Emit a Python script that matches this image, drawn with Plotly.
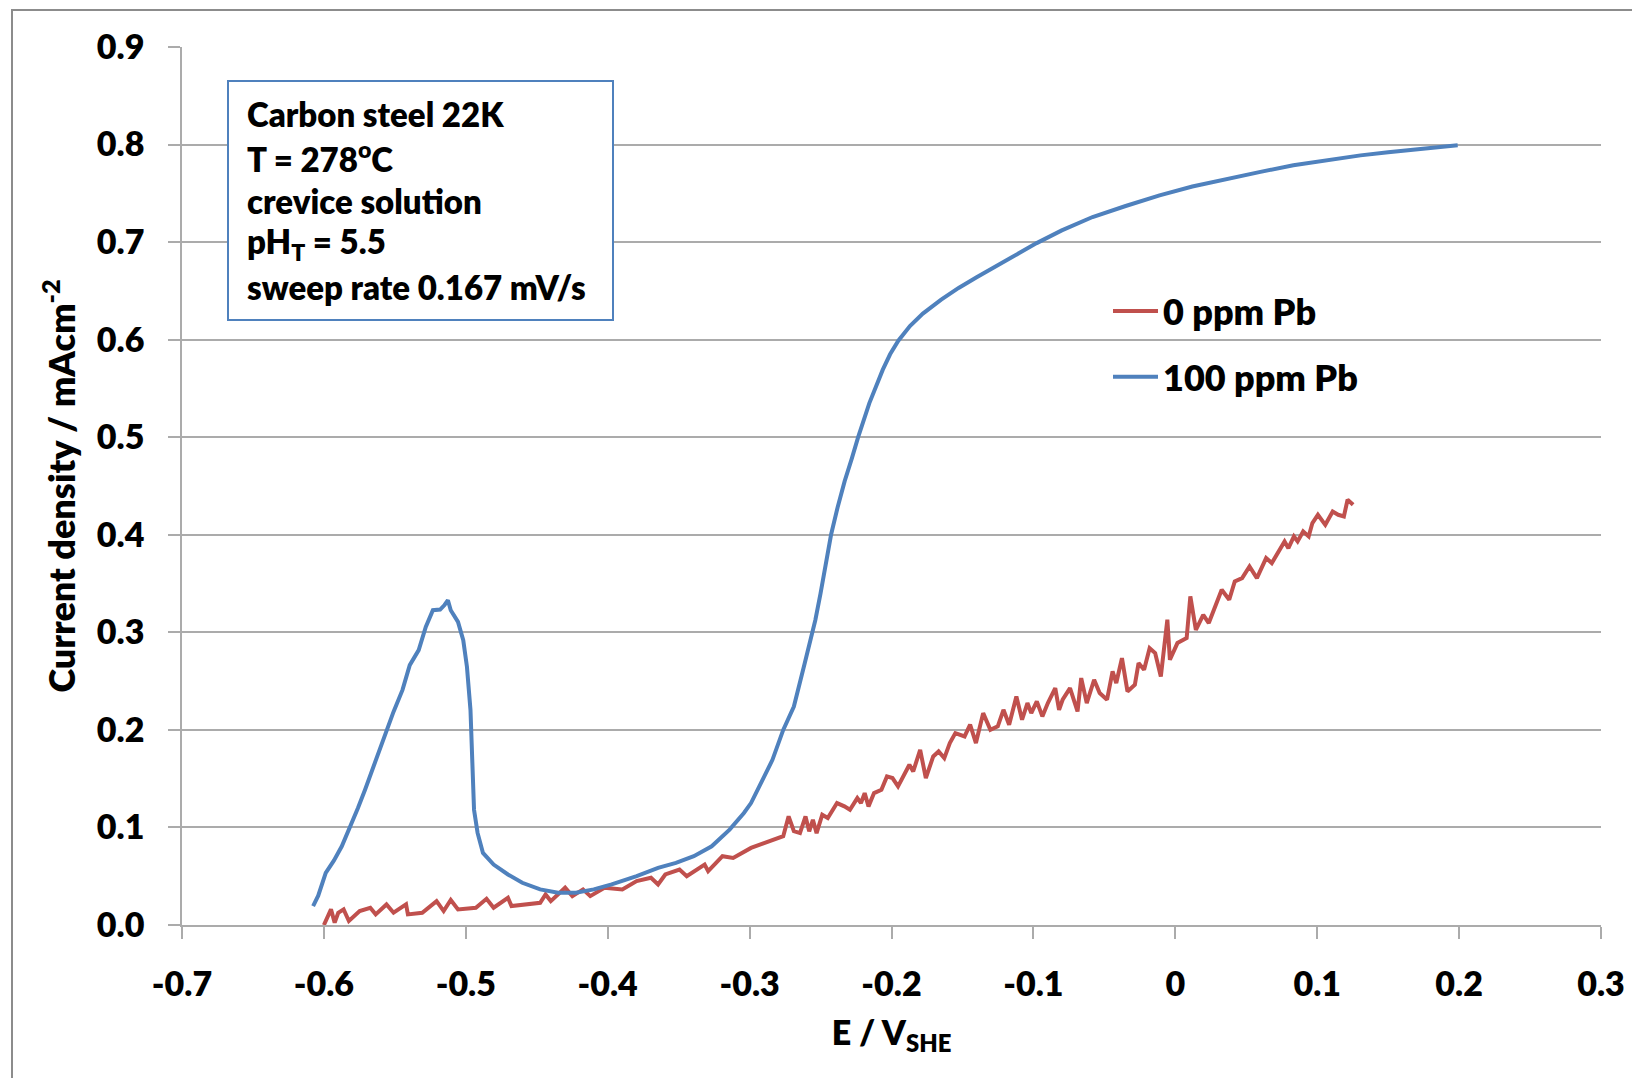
import plotly.graph_objects as go

# ---------------- data ----------------
E_0ppm = [-0.6000, -0.5950, -0.5924, -0.5899, -0.5861, -0.5824, -0.5748, -0.5673, -0.5635, -0.5559,
          -0.5509, -0.5421, -0.5408, -0.5307, -0.5206, -0.5156, -0.5106, -0.5055, -0.4929, -0.4854,
          -0.4804, -0.4703, -0.4678, -0.4476, -0.4438, -0.4401, -0.4300, -0.4249, -0.4174, -0.4123,
          -0.4023, -0.3897, -0.3796, -0.3695, -0.3645, -0.3594, -0.3494, -0.3443, -0.3317, -0.3292,
          -0.3191, -0.3116, -0.2990, -0.2814, -0.2763, -0.2725, -0.2688, -0.2645, -0.2606, -0.2580,
          -0.2554, -0.2528, -0.2488, -0.2449, -0.2384, -0.2332, -0.2293, -0.2241, -0.2215, -0.2189,
          -0.2162, -0.2123, -0.2071, -0.2032, -0.1993, -0.1954, -0.1914, -0.1874, -0.1847, -0.1798,
          -0.1758, -0.1706, -0.1668, -0.1628, -0.1589, -0.1550, -0.1485, -0.1446, -0.1405, -0.1354,
          -0.1303, -0.1251, -0.1211, -0.1171, -0.1120, -0.1080, -0.1042, -0.1015, -0.0976, -0.0937,
          -0.0898, -0.0846, -0.0819, -0.0794, -0.0742, -0.0689, -0.0663, -0.0624, -0.0572, -0.0533,
          -0.0481, -0.0442, -0.0416, -0.0376, -0.0337, -0.0285, -0.0259, -0.0220, -0.0181, -0.0142,
          -0.0102, -0.0056, -0.0038, 0.0015, 0.0080, 0.0106, 0.0145, 0.0197, 0.0236, 0.0327,
          0.0380, 0.0419, 0.0471, 0.0523, 0.0575, 0.0640, 0.0680, 0.0770, 0.0797, 0.0836,
          0.0862, 0.0901, 0.0940, 0.0966, 0.1005, 0.1057, 0.1109, 0.1148, 0.1188, 0.1214,
          0.1253]
I_0ppm = [0.0000, 0.0160, 0.0024, 0.0126, 0.0160, 0.0041, 0.0143, 0.0177, 0.0109, 0.0211,
          0.0126, 0.0211, 0.0109, 0.0126, 0.0245, 0.0143, 0.0256, 0.0160, 0.0177, 0.0269,
          0.0177, 0.0279, 0.0194, 0.0228, 0.0313, 0.0245, 0.0382, 0.0296, 0.0365, 0.0296,
          0.0382, 0.0365, 0.0450, 0.0484, 0.0416, 0.0518, 0.0569, 0.0501, 0.0620, 0.0552,
          0.0705, 0.0688, 0.0790, 0.0876, 0.0910, 0.1114, 0.0961, 0.0942, 0.1113, 0.0960,
          0.1079, 0.0942, 0.1130, 0.1096, 0.1250, 0.1216, 0.1181, 0.1301, 0.1250, 0.1352,
          0.1216, 0.1352, 0.1386, 0.1523, 0.1506, 0.1421, 0.1540, 0.1643, 0.1574, 0.1796,
          0.1506, 0.1728, 0.1779, 0.1711, 0.1865, 0.1967, 0.1933, 0.2053, 0.1865, 0.2172,
          0.2001, 0.2036, 0.2206, 0.2053, 0.2343, 0.2104, 0.2275, 0.2172, 0.2292, 0.2138,
          0.2275, 0.2428, 0.2206, 0.2309, 0.2428, 0.2189, 0.2531, 0.2275, 0.2514, 0.2377,
          0.2309, 0.2599, 0.2480, 0.2736, 0.2394, 0.2463, 0.2685, 0.2616, 0.2838, 0.2787,
          0.2548, 0.3129, 0.2719, 0.2890, 0.2941, 0.3368, 0.3026, 0.3180, 0.3095, 0.3436,
          0.3334, 0.3522, 0.3556, 0.3675, 0.3556, 0.3761, 0.3710, 0.3932, 0.3863, 0.3983,
          0.3932, 0.4034, 0.3983, 0.4120, 0.4205, 0.4102, 0.4239, 0.4205, 0.4188, 0.4359,
          0.4307]

E_100ppm = [-0.6076, -0.6040, -0.5987, -0.5930, -0.5874, -0.5811, -0.5760, -0.5710, -0.5635, -0.5559,
            -0.5509, -0.5446, -0.5395, -0.5332, -0.5282, -0.5232, -0.5181, -0.5150, -0.5126, -0.5106,
            -0.5055, -0.5018, -0.4992, -0.4967, -0.4955, -0.4942, -0.4917, -0.4879, -0.4804, -0.4703,
            -0.4602, -0.4476, -0.4350, -0.4224, -0.4098, -0.3972, -0.3796, -0.3645, -0.3519, -0.3393,
            -0.3267, -0.3141, -0.3040, -0.2990, -0.2914, -0.2839, -0.2763, -0.2688, -0.2612, -0.2537,
            -0.2500, -0.2460, -0.2426, -0.2380, -0.2330, -0.2280, -0.2235, -0.2156, -0.2100, -0.2062,
            -0.2010, -0.1952, -0.1870, -0.1779, -0.1650, -0.1527, -0.1400, -0.1276, -0.1130, -0.0977,
            -0.0800, -0.0583, -0.0350, -0.0111, 0.0120, 0.0360, 0.0600, 0.0832, 0.1070, 0.1305,
            0.1500, 0.1682, 0.1850, 0.1990]
I_100ppm = [0.0194, 0.0300, 0.0535, 0.0660, 0.0807, 0.1012, 0.1200, 0.1387, 0.1690, 0.2000,
            0.2187, 0.2410, 0.2664, 0.2818, 0.3056, 0.3227, 0.3233, 0.3280, 0.3329, 0.3227,
            0.3107, 0.2920, 0.2647, 0.2204, 0.1693, 0.1182, 0.0944, 0.0739, 0.0620, 0.0518,
            0.0433, 0.0365, 0.0330, 0.0330, 0.0365, 0.0416, 0.0501, 0.0586, 0.0637, 0.0705,
            0.0807, 0.0978, 0.1148, 0.1250, 0.1472, 0.1693, 0.2000, 0.2239, 0.2681, 0.3124,
            0.3400, 0.3720, 0.4000, 0.4280, 0.4550, 0.4780, 0.5000, 0.5350, 0.5560, 0.5690,
            0.5850, 0.5990, 0.6140, 0.6267, 0.6410, 0.6530, 0.6640, 0.6745, 0.6860, 0.6990,
            0.7120, 0.7257, 0.7370, 0.7479, 0.7570, 0.7650, 0.7720, 0.7787, 0.7840, 0.7889,
            0.7920, 0.7947, 0.7975, 0.7992]

series_names = ["0 ppm Pb", "100 ppm Pb"]
x_tickvals = [-0.7, -0.6, -0.5, -0.4, -0.3, -0.2, -0.1, 0.0, 0.1, 0.2, 0.3]
x_ticktext = ["-0.7", "-0.6", "-0.5", "-0.4", "-0.3", "-0.2", "-0.1", "0", "0.1", "0.2", "0.3"]
y_tickvals = [0.0, 0.1, 0.2, 0.3, 0.4, 0.5, 0.6, 0.7, 0.8, 0.9]
y_ticktext = ["0.0", "0.1", "0.2", "0.3", "0.4", "0.5", "0.6", "0.7", "0.8", "0.9"]
info_lines = ["Carbon steel 22K", "T = 278<sup>o</sup>C", "crevice solution",
              "pH<sub>T</sub> = 5.5", "sweep rate 0.167 mV/s"]

# ---------------- figure ----------------
FONT = "Lato"
WEIGHT = 800
RED = "#C0504D"
BLUE = "#4F81BD"
GRID = "#ABABAB"


def f(size):
    return dict(family=FONT, size=size, color="black", weight=WEIGHT)


fig = go.Figure()
fig.add_trace(go.Scatter(x=E_0ppm, y=I_0ppm, mode="lines", name=series_names[0],
                         legendgroup="a", line=dict(color=RED, width=4)))
fig.add_trace(go.Scatter(x=E_100ppm, y=I_100ppm, mode="lines", name=series_names[1],
                         legendgroup="b", line=dict(color=BLUE, width=4)))

W, H = 1632, 1078
L, R, T, B = 182, 31, 47, 153
pw, ph = W - L - R, H - T - B


def px2paper(px, py):
    return (px - L) / pw, 1 - (py - T) / ph


# info box
bx0, by0 = px2paper(228, 81)
bx1, by1 = px2paper(613, 320)
fig.add_shape(type="rect", xref="paper", yref="paper", x0=bx0, y0=by1, x1=bx1, y1=by0,
              line=dict(color=BLUE, width=2), fillcolor="white", layer="above")

line_centers = [114, 157.3, 200.6, 244, 287.3]
for txt, cy in zip(info_lines, line_centers):
    ax, ay = px2paper(245, cy)
    fig.add_annotation(text=txt, xref="paper", yref="paper", x=ax, y=ay,
                       xanchor="left", yanchor="middle", showarrow=False, align="left",
                       font=f(33))

# outer chart-area frame
fx0, fy0 = px2paper(12, 10)
fig.add_shape(type="rect", xref="paper", yref="paper", x0=fx0, y0=-0.5, x1=1.2, y1=fy0,
              line=dict(color="#8C8C8C", width=2), fillcolor="rgba(0,0,0,0)", layer="below")

lx, ly = px2paper(1108, 281)
fig.update_layout(
    width=W, height=H,
    margin=dict(l=L, r=R, t=T, b=B, autoexpand=False),
    plot_bgcolor="white", paper_bgcolor="white",
    font=f(33),
    showlegend=True,
    legend=dict(x=lx, y=ly, xanchor="left", yanchor="top", bgcolor="rgba(0,0,0,0)",
                traceorder="grouped", tracegroupgap=16, itemwidth=45,
                font=f(36)),
    xaxis=dict(range=[-0.7, 0.3], tickvals=x_tickvals, ticktext=x_ticktext,
               showgrid=False, zeroline=False, showline=True, linecolor=GRID, linewidth=1.5,
               ticks="outside", ticklen=12, tickwidth=1.5, tickcolor=GRID,
               ticklabelstandoff=16,
               tickfont=f(34),
               title=dict(text="E / V<sub>SHE</sub>", standoff=20, font=f(34))),
    yaxis=dict(range=[0, 0.9], tickvals=y_tickvals, ticktext=y_ticktext,
               showgrid=True, gridcolor=GRID, gridwidth=1.5, zeroline=False,
               showline=True, linecolor=GRID, linewidth=1.5,
               ticks="outside", ticklen=12, tickwidth=1.5, tickcolor=GRID,
               ticklabelstandoff=17,
               tickfont=f(34),
               title=dict(text="Current density / mAcm<sup>-2</sup>", standoff=10, font=f(36))),
)

fig.write_html("out.html")
